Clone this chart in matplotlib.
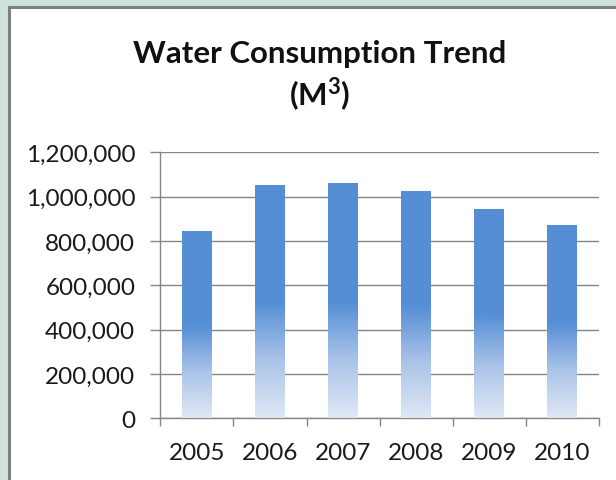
import numpy as np
import matplotlib
matplotlib.use("Agg")
import matplotlib.pyplot as plt
from matplotlib.colors import LinearSegmentedColormap
from matplotlib.patches import Rectangle
from matplotlib.ticker import FuncFormatter

# data
years = ["2005", "2006", "2007", "2008", "2009", "2010"]
consumption = [845000, 1054000, 1060000, 1024000, 943000, 873000]

plt.rcParams['font.family'] = ['Lato', 'DejaVu Sans']
plt.rcParams['mathtext.fontset'] = 'custom'
plt.rcParams['mathtext.bf'] = 'Lato:bold'
plt.rcParams['mathtext.rm'] = 'Lato:bold'

fig = plt.figure(figsize=(6.16, 4.81), dpi=100)
fig.patch.set_facecolor("#cfe3dc")

# white chart area with grey border on left/top
W, H = 616, 481
fig.add_artist(Rectangle((9 / W, 0), 1, 1 - 8 / H, transform=fig.transFigure,
                         facecolor="white", edgecolor="none", zorder=-2))
fig.add_artist(plt.Line2D([9 / W, 9 / W], [0, 1 - 8 / H], transform=fig.transFigure,
                          color="#7f7f7f", lw=2.2, zorder=-1))
fig.add_artist(plt.Line2D([9 / W, 1], [1 - 8 / H, 1 - 8 / H], transform=fig.transFigure,
                          color="#7f7f7f", lw=2.2, zorder=-1))

ax = fig.add_axes([160.3 / W, 1 - 419.3 / H, (599 - 160.3) / W, (419.3 - 153.3) / H])
ax.set_facecolor("none")
ax.set_zorder(1)

x = np.arange(len(years))
bar_w = 0.41
bars = ax.bar(x, consumption, width=bar_w, color="none", edgecolor="none", zorder=3)

# solid on top half, fading to near white on the lower half
cmap = LinearSegmentedColormap.from_list("fade", ["#dfe7f5", "#a9c3e8", "#558ed5", "#558ed5"])
grad = np.concatenate([np.linspace(0, 0.667, 60), np.full(60, 1.0)])[:, None]
for b, xi, v in zip(bars, x, consumption):
    im = ax.imshow(grad, cmap=cmap, vmin=0, vmax=1, origin="lower", aspect="auto",
                   extent=(xi - bar_w / 2, xi + bar_w / 2, 0, v), zorder=3)
    im.set_clip_path(b)

ax.set_xlim(-0.5, 5.5)
ax.set_ylim(0, 1200000)
ax.set_yticks(np.arange(0, 1200001, 200000))
ax.yaxis.set_major_formatter(FuncFormatter(lambda v, p: f"{int(v):,}"))
ax.grid(axis="y", color="#868686", lw=1.0, zorder=1)
ax.set_axisbelow(True)

ax.set_xticks(x)
ax.set_xticklabels(years)
ax.set_xticks(np.arange(-0.5, 6, 1), minor=True)
ax.tick_params(axis="x", which="major", length=0, labelsize=17.5, pad=17, colors="#1a1a1a")
ax.tick_params(axis="x", which="minor", length=6, width=1.0, color="#868686")
ax.tick_params(axis="y", length=7, width=1.0, color="#868686", labelsize=17.5, pad=11,
               labelcolor="#1a1a1a")

for s in ["top", "right"]:
    ax.spines[s].set_visible(False)
for s in ["left", "bottom"]:
    ax.spines[s].set_color("#868686")
    ax.spines[s].set_linewidth(1.0)

fig.text(320 / W, 1 - 63 / H, "Water Consumption Trend", ha="center", va="baseline",
         fontsize=22.5, fontweight="bold", color="#111111")
fig.text(320 / W, 1 - 107 / H, r"(M$^{\mathbf{3}}$)", ha="center", va="baseline",
         fontsize=22.5, fontweight="bold", color="#111111")

fig.savefig("out.png", dpi=100, facecolor=fig.get_facecolor())
